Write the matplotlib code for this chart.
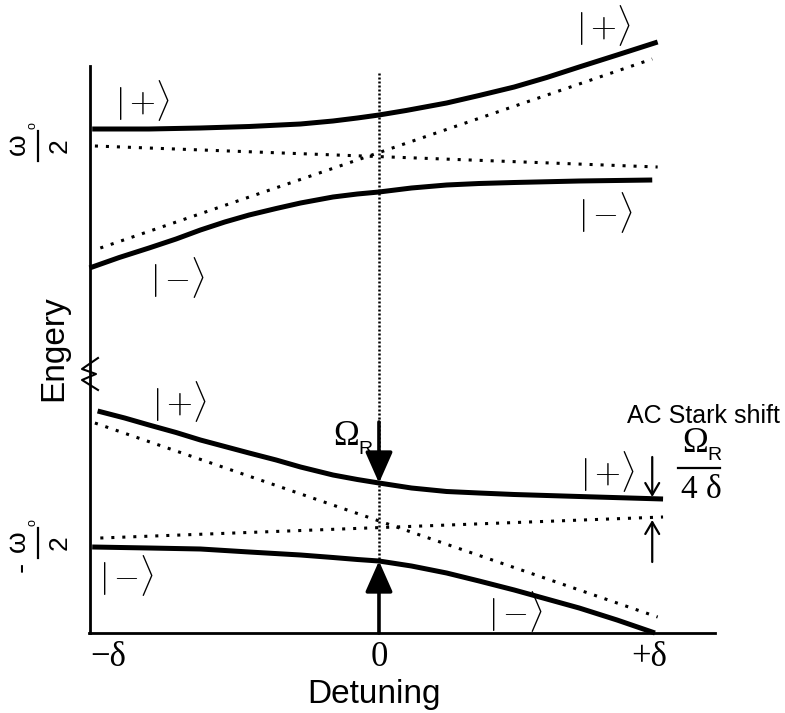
import matplotlib
matplotlib.use("Agg")
import matplotlib.pyplot as plt
from matplotlib.lines import Line2D

W, H = 785, 713

# detuning (in units of delta) and energy (arbitrary units)
up_plus_x = [-1.06, -0.85, -0.66, -0.48, -0.29, -0.17, -0.08, 0.0, 0.10, 0.25,
             0.37, 0.50, 0.62, 0.74, 0.88, 1.03]
up_plus_y = [5.04, 5.04, 5.05, 5.065, 5.09, 5.12, 5.15, 5.18, 5.225, 5.30,
             5.375, 5.46, 5.555, 5.66, 5.78, 5.91]

up_minus_x = [-1.07, -0.96, -0.85, -0.75, -0.66, -0.57, -0.48, -0.38, -0.29, -0.17,
              -0.08, 0.0, 0.12, 0.25, 0.37, 0.50, 0.74, 1.01]
up_minus_y = [3.65, 3.755, 3.85, 3.94, 4.03, 4.11, 4.18, 4.245, 4.30, 4.36,
              4.39, 4.41, 4.45, 4.48, 4.495, 4.505, 4.52, 4.53]

lo_plus_x = [-1.04, -0.94, -0.85, -0.75, -0.66, -0.57, -0.48, -0.38, -0.29, -0.17,
             -0.08, 0.0, 0.12, 0.25, 0.37, 0.50, 0.74, 1.05]
lo_plus_y = [2.22, 2.15, 2.08, 2.005, 1.93, 1.865, 1.80, 1.73, 1.66, 1.58,
             1.535, 1.50, 1.45, 1.415, 1.40, 1.385, 1.365, 1.34]

lo_minus_x = [-1.06, -0.85, -0.66, -0.48, -0.29, -0.17, -0.08, 0.0, 0.12, 0.25,
              0.37, 0.50, 0.62, 0.74, 0.88, 1.02]
lo_minus_y = [0.86, 0.85, 0.84, 0.81, 0.78, 0.755, 0.735, 0.72, 0.67, 0.60,
              0.52, 0.43, 0.34, 0.25, 0.13, 0.0]

# bare (undressed) states, dotted
bare_a_x, bare_a_y = [-1.05, 1.03], [4.87, 4.66]
bare_b_x, bare_b_y = [-1.03, 1.01], [3.85, 5.74]
bare_c_x, bare_c_y = [-1.05, 1.03], [2.10, 0.16]
bare_d_x, bare_d_y = [-1.03, 1.05], [0.95, 1.16]

# resonance line and arrows
res_x = 0.0
res_y = [5.60, 0.72]
rabi_down = (2.11, 1.50)
rabi_up = (0.0, 0.72)
stark_x = 1.01
stark_down = (1.76, 1.36)
stark_up = (0.71, 1.13)

tick_pos = [-1, 0, 1]
tick_txt = ["\u2212\u03b4", "0", "+\u03b4"]


def fp(x, y):
    # pixel position -> figure fraction
    return x / W, 1 - y / H


fig = plt.figure(figsize=(7.85, 7.13), dpi=100)
ax = fig.add_axes([89.5 / W, 80 / H, (715 - 89.5) / W, 567 / H])
ax.set_xlim(-1.070, 1.242)
ax.set_ylim(0, 5.67)

solid = dict(color="black", lw=3.6, solid_capstyle="butt", solid_joinstyle="round",
             clip_on=False)
dots = dict(color="black", lw=2.2, linestyle=(0, (1, 2.6)), clip_on=False)

ax.plot(up_plus_x, up_plus_y, **solid)
ax.plot(up_minus_x, up_minus_y, **solid)
ax.plot(lo_plus_x, lo_plus_y, **solid)
ax.plot(lo_minus_x, lo_minus_y, **solid)

ax.plot(bare_a_x, bare_a_y, **dots)
ax.plot(bare_b_x, bare_b_y, **dots)
ax.plot(bare_c_x, bare_c_y, **dots)
ax.plot(bare_d_x, bare_d_y, **dots)

ax.plot([res_x, res_x], res_y, color="black", lw=1.8, linestyle=(0, (0.8, 0.8)))

big = dict(arrowstyle="-|>,head_length=0.95,head_width=0.42", color="black",
           lw=2.6, mutation_scale=20, shrinkA=0, shrinkB=0)
ax.annotate("", xy=(res_x, rabi_down[1]), xytext=(res_x, rabi_down[0]), arrowprops=big)
ax.annotate("", xy=(res_x, rabi_up[1]), xytext=(res_x, rabi_up[0]), arrowprops=big)

thin = dict(arrowstyle="->,head_length=0.85,head_width=0.5", color="black",
            lw=1.6, mutation_scale=10, shrinkA=0, shrinkB=0)
ax.annotate("", xy=(stark_x, stark_down[1]), xytext=(stark_x, stark_down[0]), arrowprops=thin)
ax.annotate("", xy=(stark_x, stark_up[1]), xytext=(stark_x, stark_up[0]), arrowprops=thin)

# axes look
for s in ["top", "right"]:
    ax.spines[s].set_visible(False)
ax.spines["left"].set_linewidth(2.0)
ax.spines["bottom"].set_linewidth(2.0)
ax.set_yticks([])
ax.set_xticks(tick_pos)
ax.set_xticklabels(tick_txt, family="Liberation Serif", fontsize=25)
ax.tick_params(axis="x", length=0, pad=6)

# axis break mark
zz = [(98, 358), (82, 369), (96, 374), (82, 380), (98, 390)]
fig.add_artist(Line2D([fp(*p)[0] for p in zz], [fp(*p)[1] for p in zz],
                      transform=fig.transFigure, color="black", lw=1.5))

sans = "Liberation Sans"
serif = "Liberation Serif"

fig.text(*fp(374, 703), "Detuning", family=sans, fontsize=24, ha="center", va="baseline")
fig.text(*fp(62, 348), "Engery", family=sans, fontsize=24, rotation=90,
         rotation_mode="anchor", ha="center", va="baseline")

# omega_0 / 2 labels on the energy axis
for yc, neg in [(145, False), (542, True)]:
    fig.text(*fp(25, yc - 1), "\u03c9", family=sans, fontsize=20, rotation=90,
             rotation_mode="anchor", ha="center", va="baseline")
    fig.text(*fp(32, yc - 19), "o", family=sans, fontsize=9, rotation=90,
             rotation_mode="anchor", ha="center", va="center")
    fig.add_artist(Line2D([38 / W, 38 / W], [1 - (yc - 14) / H, 1 - (yc + 16) / H],
                          transform=fig.transFigure, color="black", lw=1.6))
    fig.text(*fp(67, yc + 1), "2", family=sans, fontsize=19, rotation=90,
             rotation_mode="anchor", ha="center", va="baseline")
    if neg:
        fig.text(*fp(22, yc + 25), "-", family=sans, fontsize=22, rotation=90,
                 rotation_mode="anchor", ha="center", va="center")

# state labels
kets = [(142, 101, "+"), (177, 278, "-"), (603, 26, "+"), (605, 213, "-"),
        (179, 402, "+"), (126, 575, "-"), (607, 472, "+"), (515, 611, "-")]
for kx, ky, sgn in kets:
    fig.text(*fp(kx, ky), r"$|\,{%s}\rangle$" % sgn, fontsize=24, math_fontfamily="cm",
             ha="center", va="center")

# Rabi frequency label
fig.text(*fp(346, 445), "\u03a9", family=serif, fontsize=25, ha="center", va="baseline")
fig.text(*fp(365, 454), "R", family=sans, fontsize=14, ha="center", va="baseline")

# AC Stark shift label
fig.text(*fp(703, 423), "AC Stark shift", family=sans, fontsize=18, ha="center", va="baseline")
fig.text(*fp(695, 452), "\u03a9", family=serif, fontsize=25, ha="center", va="baseline")
fig.text(*fp(714, 460), "R", family=sans, fontsize=14, ha="center", va="baseline")
fig.add_artist(Line2D([678 / W, 720 / W], [1 - 468 / H, 1 - 468 / H],
                      transform=fig.transFigure, color="black", lw=1.6))
fig.text(*fp(701, 498), "4 \u03b4", family=serif, fontsize=24, ha="center", va="baseline")

fig.savefig("out.png", dpi=100)
plt.close(fig)
